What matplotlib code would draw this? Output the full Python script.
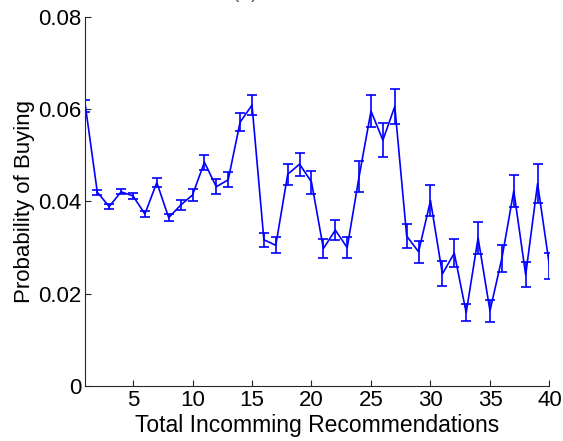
import matplotlib
matplotlib.use("Agg")
import matplotlib.pyplot as plt

# total incoming recommendations vs probability of buying
recs = list(range(1, 41))
prob = [0.0607, 0.0420, 0.0389, 0.0421, 0.0412, 0.0373, 0.0441, 0.0365, 0.0392, 0.0414,
        0.0485, 0.0432, 0.0447, 0.0572, 0.0609, 0.0317, 0.0305, 0.0459, 0.0481, 0.0442,
        0.0298, 0.0338, 0.0300, 0.0454, 0.0596, 0.0533, 0.0606, 0.0325, 0.0291, 0.0402,
        0.0243, 0.0288, 0.0159, 0.0321, 0.0163, 0.0277, 0.0423, 0.0241, 0.0439, 0.0260]
err = [0.0012, 0.0005, 0.0005, 0.0005, 0.0006, 0.0007, 0.0010, 0.0008, 0.0011, 0.0012,
       0.0016, 0.0016, 0.0016, 0.0020, 0.0022, 0.0015, 0.0017, 0.0023, 0.0025, 0.0025,
       0.0020, 0.0022, 0.0023, 0.0033, 0.0035, 0.0037, 0.0038, 0.0026, 0.0024, 0.0034,
       0.0027, 0.0031, 0.0019, 0.0035, 0.0024, 0.0029, 0.0035, 0.0027, 0.0042, 0.0029]

plt.rcParams['font.family'] = ['Liberation Sans', 'DejaVu Sans']

fig = plt.figure(figsize=(5.63, 4.41), dpi=100)
ax = fig.add_axes([0.1517, 0.1247, 0.8243, 0.8368])

ax.errorbar(recs, prob, yerr=err, color='blue', lw=1.2, elinewidth=1.2,
            capsize=3.6, capthick=1.2)

ax.set_xlim(1, 40)
ax.set_ylim(0, 0.08)
ax.set_xticks([5, 10, 15, 20, 25, 30, 35, 40])
ax.set_yticks([0, 0.02, 0.04, 0.06, 0.08])
ax.set_yticklabels(['0', '0.02', '0.04', '0.06', '0.08'])
ax.spines['top'].set_visible(False)
ax.spines['right'].set_visible(False)
for s in ['left', 'bottom']:
    ax.spines[s].set_color('0.15')
ax.tick_params(direction='in', labelsize=16, length=4, pad=3, color='0.15')
ax.set_xlabel('Total Incomming Recommendations', fontsize=16.5, labelpad=2)
ax.set_ylabel('Probability of Buying', fontsize=16, labelpad=2)

fig.text(0.435, 0.996, '(a)', fontsize=16, color='0.4', ha='center', va='bottom')

fig.savefig('out.png', dpi=100)
